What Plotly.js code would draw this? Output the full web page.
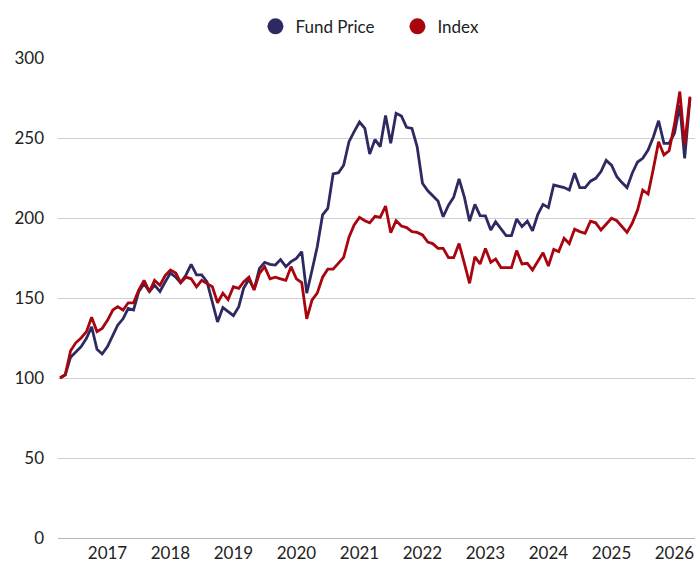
<!DOCTYPE html>
<html>
<head>
<meta charset="utf-8">
<script src="https://cdn.plot.ly/plotly-3.0.1.min.js"></script>
<style>
  html, body { margin: 0; padding: 0; background: #fff; }
  #chart { width: 695px; height: 563px; }
</style>
</head>
<body>
<div id="chart"></div>
<script>
// Monthly series, first observation April 2016
const startYear = 2016;
const startMonth = 4;

const fundPrice = [100,102,113,116.5,119.6,124.8,132,118,115,119.6,
  127,133,137,143.5,142.5,154,159,154,158,154,
  160,165.6,163,159.6,164.4,171,164.4,164.4,160,148,
  135,144,141.5,139,144.6,156,161.7,155.4,168.5,172.3,
  171,170.6,174,169.6,172.7,174.8,179,153,167.5,182,
  202,206,227.5,228.3,233,247.7,254,260,256,240,
  249,244.6,264,246.7,265.4,263.7,256.7,256,244.6,221.7,
  217,214,210.6,200.8,208,213,224.4,213,198,208.5,
  201.5,201.3,192.5,197.7,193,189,189,199.4,194.6,198,
  192,202.3,208.5,206.5,220.6,220,219,217.5,228,219,
  219,223,224.8,229,236,233,225.8,222.3,219,228,
  235,237.3,242.5,250.8,260.8,246.7,246.7,253,270.6,237.3,274.8];

const indexValues = [100,102,117,122,125,129,138,129,131,136,
  142.5,144.6,142.5,147,147,155,161,154,161,158,
  164,167.5,165.6,159.6,163,162,157,161,159,157,
  147,153,149,157,156,160,163,155,165.4,169.6,
  162,163,162,161,169.6,162,159.6,137,148.8,153,
  163,168,168,171.7,175.4,188,195.6,200.4,198.3,197,
  201,200.4,207.5,190.8,198.3,195,194,191.5,191,189.4,
  185,184,181,181,175.2,175.2,184,171.7,159.2,175.8,
  171.3,181,172.3,174.4,169,169,169,179.6,171.3,171.7,
  167.5,173,178.3,170,180.4,179,187.3,184,193,191.5,
  190.4,198,197,192.5,196,199.8,198.3,195,191,196.7,
  205,217.5,215,231,247.7,239.4,242,258.5,279,245.6,275.8];

const seriesNames = ["Fund Price", "Index"];
const yTicks = [0, 50, 100, 150, 200, 250, 300];

function monthDates(n) {
  const out = [];
  for (let i = 0; i < n; i++) {
    const m0 = startMonth - 1 + i;
    const y = startYear + Math.floor(m0 / 12);
    const m = (m0 % 12) + 1;
    out.push(y + "-" + String(m).padStart(2, "0") + "-01");
  }
  return out;
}
const dates = monthDates(fundPrice.length);

const navy = "#2d2a62";
const red = "#a8050f";

const data = [
  {x: dates, y: fundPrice, type: "scatter", mode: "lines", name: seriesNames[0],
   line: {color: navy, width: 2.8}, showlegend: false, hoverinfo: "x+y"},
  {x: dates, y: indexValues, type: "scatter", mode: "lines", name: seriesNames[1],
   line: {color: red, width: 2.8}, showlegend: false, hoverinfo: "x+y"},
  {x: [null], y: [null], type: "scatter", mode: "markers", name: seriesNames[0],
   marker: {color: navy, size: 16, symbol: "circle"}, showlegend: true},
  {x: [null], y: [null], type: "scatter", mode: "markers", name: seriesNames[1],
   marker: {color: red, size: 16, symbol: "circle"}, showlegend: true}
];

const layout = {
  width: 695, height: 563,
  margin: {l: 58, r: 0, t: 58, b: 25, pad: 0},
  paper_bgcolor: "#ffffff", plot_bgcolor: "#ffffff",
  font: {family: "Lato, 'Open Sans', sans-serif", size: 17, color: "#222222"},
  showlegend: true,
  legend: {orientation: "h", x: 0.31, xanchor: "left", y: 1.065, yanchor: "middle",
           entrywidth: 97, entrywidthmode: "pixels",
           font: {size: 17, color: "#222222"}, itemclick: false, traceorder: "normal"},
  xaxis: {type: "date", range: ["2016-03-20", "2026-04-30"],
          tick0: "2017-01-01", dtick: "M12", tickformat: "%Y",
          showgrid: false, zeroline: false, showline: false, ticks: "",
          ticklabelstandoff: 3, tickfont: {size: 17, color: "#222222"}, fixedrange: true},
  yaxis: {range: [0, 300], tickvals: yTicks, showgrid: true, gridcolor: "#cfcfcf",
          gridwidth: 1, zeroline: true, zerolinecolor: "#b5b5b5", zerolinewidth: 1,
          showline: false, ticks: "", ticklabelstandoff: 13,
          tickfont: {size: 17, color: "#222222"}, fixedrange: true}
};

Plotly.newPlot("chart", data, layout, {displayModeBar: false, staticPlot: true});
</script>
</body>
</html>
